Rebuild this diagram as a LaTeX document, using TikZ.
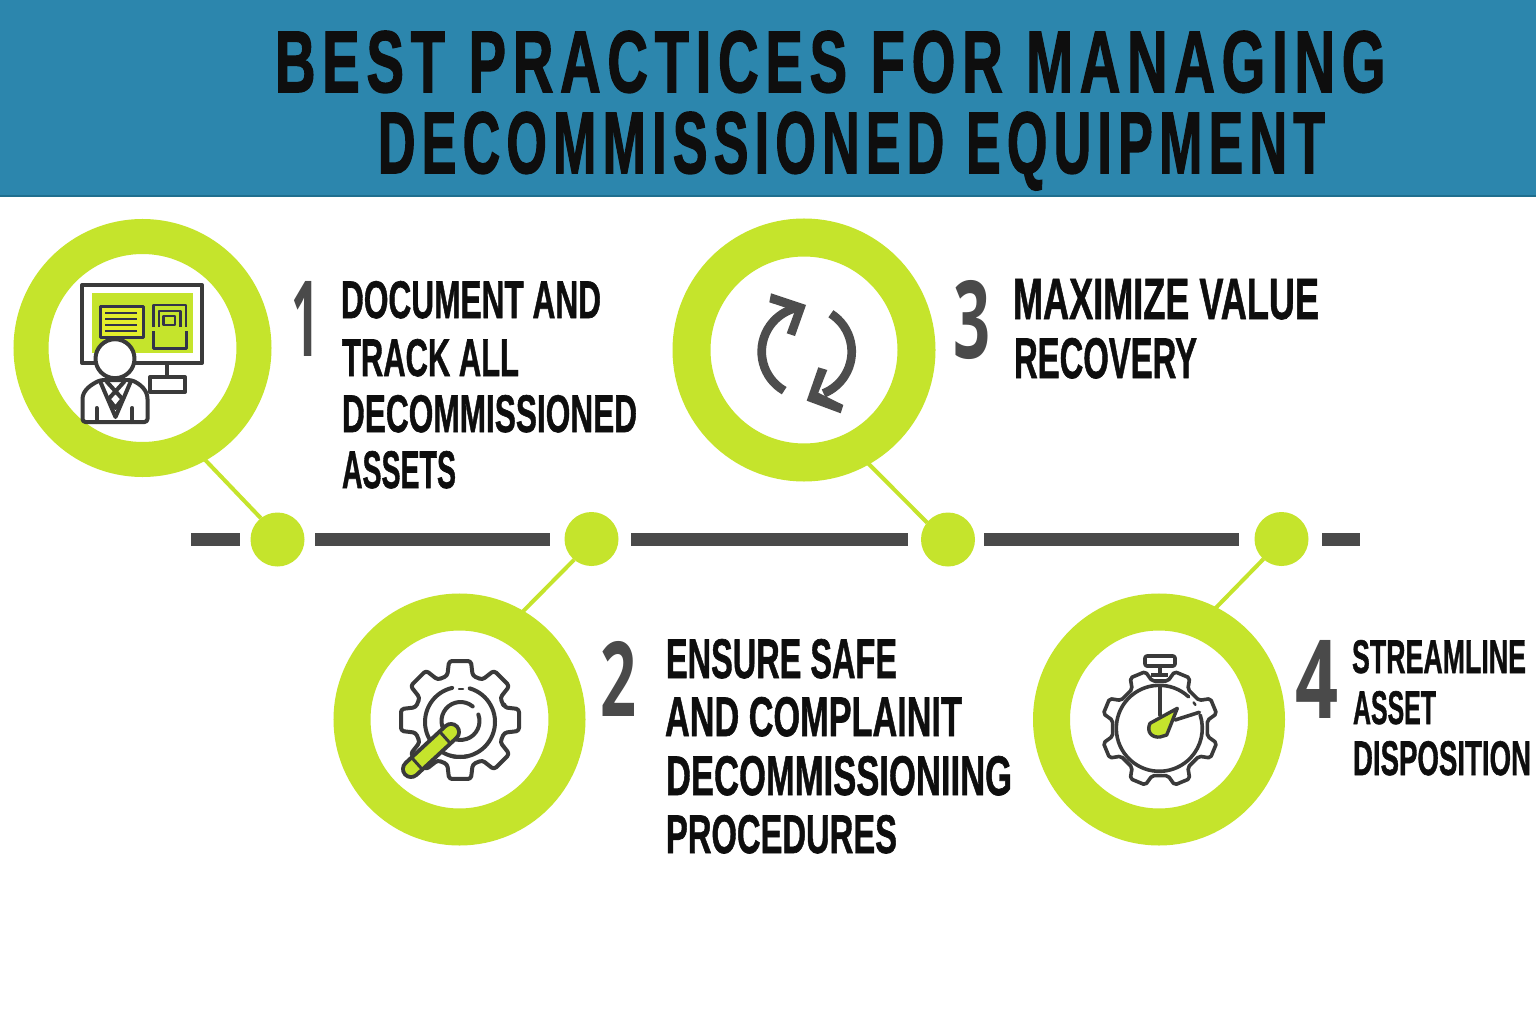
\documentclass[tikz,border=0pt]{standalone}
\usepackage{fontspec}
\usepackage{graphicx}
\setmainfont{Liberation Sans}
\newfontfamily\titlef[FakeBold=1.9,LetterSpace=12]{Liberation Sans Bold}
\newfontfamily\bodyf[FakeBold=1.2]{Liberation Sans Bold}
\newfontfamily\numf{Open Sans}
\newcommand\fitbox[3]{\resizebox{#1pt}{#2pt}{#3}}
\newcommand\wsp{\hspace{0.42em}}
\definecolor{lime}{HTML}{C5E42C}
\definecolor{band}{HTML}{2C86AD}
\definecolor{bandedge}{HTML}{1F6F8F}
\definecolor{ink}{HTML}{0E0E0E}
\definecolor{slate}{HTML}{4A4A4A}
\definecolor{iconline}{HTML}{3A3A3A}
\definecolor{cycleline}{HTML}{4D4D4D}
\definecolor{navyline}{HTML}{33334A}
\definecolor{paper}{HTML}{E4EE2C}
\tikzset{
  ring/.style={circle,draw=lime,fill=white,inner sep=0pt,outer sep=0pt},
  joint/.style={circle,fill=lime,inner sep=0pt,outer sep=0pt,minimum size=54pt},
  link/.style={draw=lime,line width=4pt},
  seg/.style={fill=slate,draw=none},
  label/.style={anchor=base west,inner sep=0pt,outer sep=0pt,text=ink},
  numeral/.style={anchor=base west,inner sep=0pt,outer sep=0pt,text=slate},
  icon/.style={draw=iconline,line width=4pt,line join=round,line cap=round},
  iconthin/.style={draw=navyline,line width=3pt,line join=round},
}
\begin{document}
\begin{tikzpicture}[x=1pt,y=-1pt]
\useasboundingbox (0,0) rectangle (1536,1024);
\fill[white] (0,0) rectangle (1536,1024);
\fill[band] (0,0) rectangle (1536,196);
\draw[bandedge,line width=1.2pt] (0,196) -- (1536,196);
\node[label] (title1) at (275,92) {\fitbox{1110}{61}{\titlef BEST\wsp PRACTICES\wsp FOR\wsp MANAGING}};
\node[label] (title2) at (378,173) {\fitbox{947}{61}{\titlef DECOMMISSIONED\wsp EQUIPMENT}};

% timeline
\fill[seg] (191,533) rectangle (240,546);
\fill[seg] (315,533) rectangle (550,546);
\fill[seg] (631,533) rectangle (908,546);
\fill[seg] (984,533) rectangle (1239,546);
\fill[seg] (1322,533) rectangle (1360,546);

% rings and joints
\node[ring,line width=35pt,minimum size=223pt] (c1) at (142.5,348) {};
\node[ring,line width=38pt,minimum size=225pt] (c3) at (804,350) {};
\node[ring,line width=37pt,minimum size=215pt] (c2) at (459.5,719.5) {};
\node[ring,line width=37pt,minimum size=215pt] (c4) at (1159,719.5) {};
\node[joint] (d1) at (277.5,539.5) {};
\node[joint] (d2) at (591.5,539) {};
\node[joint] (d3) at (948,539.5) {};
\node[joint] (d4) at (1281.5,539) {};
\draw[link] (c1.-63) -- (d1.128);
\draw[link] (c2.62) -- (d2.-130);
\draw[link] (c3.-63) -- (d3.141);
\draw[link] (c4.66) -- (d4.-132);

% numerals
\node[numeral] (n1) at (291,356) {\fitbox{28}{75}{\numf\bfseries 1}};
\node[numeral] (n2) at (600,716) {\fitbox{36}{75}{\numf\bfseries 2}};
\node[numeral] (n3) at (953,358) {\fitbox{37}{78}{\numf\bfseries 3}};
\node[numeral] (n4) at (1295,718) {\fitbox{43}{78}{\numf\bfseries 4}};

% item 1
\node[label] (a1) at (341,318) {\fitbox{260}{37}{\bodyf DOCUMENT AND}};
\node[label] (a2) at (342,376) {\fitbox{177}{37}{\bodyf TRACK ALL}};
\node[label] (a3) at (342,432) {\fitbox{295}{37}{\bodyf DECOMMISSIONED}};
\node[label] (a4) at (342,488) {\fitbox{114}{37}{\bodyf ASSETS}};
% item 2
\node[label] (b1) at (666,678) {\fitbox{231}{39}{\bodyf ENSURE SAFE}};
\node[label] (b2) at (665,736) {\fitbox{297}{39}{\bodyf AND COMPLAINIT}};
\node[label] (b3) at (666,795) {\fitbox{346}{39}{\bodyf DECOMMISSIONIING}};
\node[label] (b4) at (666,853) {\fitbox{231}{38}{\bodyf PROCEDURES}};
% item 3
\node[label] (e1) at (1013,319) {\fitbox{306}{40}{\bodyf MAXIMIZE VALUE}};
\node[label] (e2) at (1014,378) {\fitbox{183}{40}{\bodyf RECOVERY}};
% item 4
\node[label] (f1) at (1352,673) {\fitbox{174}{33}{\bodyf STREAMLINE}};
\node[label] (f2) at (1353,724) {\fitbox{83}{33}{\bodyf ASSET}};
\node[label] (f3) at (1353,775) {\fitbox{178}{34}{\bodyf DISPOSITION}};

% icon 1: monitor and person
\fill[lime] (92,293) rectangle (193,353);
\draw[icon] (82.3,285) rectangle (202,363);
\draw[iconthin,fill=paper] (100,306) rectangle (143,337);
\foreach \ly in {313.3,319.3,325,330.7}{\draw[navyline,line width=2pt] (105,\ly) -- (137,\ly);}
\draw[iconthin,line width=2.6pt] (153.3,327) -- (153.3,305) -- (186,305) -- (186,327);
\draw[iconthin,line width=2.6pt] (159,327) -- (159,311) -- (180.5,311) -- (180.5,327);
\draw[iconthin,line width=2.6pt] (163.5,325) rectangle (175,316);
\draw[iconthin] (153.3,331) -- (153.3,348) -- (186,348) -- (186,331);
\draw[icon] (166.7,363) -- (166.7,377);
\draw[icon,fill=white] (150,377) rectangle (185,392);
\draw[icon,fill=white,rounded corners=3pt] (82.5,422) -- (82.5,402) .. controls (82.5,390) and (92,384) .. (101,380) -- (131,380) .. controls (140,384) and (147.5,390) .. (147.5,402) -- (147.5,422) -- cycle;
\draw[icon,fill=white] (115,358.7) circle[radius=19.5];
\draw[icon] (100,381) -- (115.5,417) -- (131,381);
\draw[icon] (107,382) -- (122.5,399) -- (115.5,408) -- (108.5,399) -- (124,382);
\draw[icon] (96.7,408) -- (96.7,422);
\draw[icon] (132.3,408) -- (132.3,422);

% icon 2: gear and tool
\begin{scope}[shift={(460,720)}]
\draw[icon,rounded corners=3pt] (-16:46) \foreach \a in {0,45,...,315}{ -- (\a-16:46) -- (\a-10.5:60) -- (\a+10.5:60) -- (\a+16:46)} -- cycle;
\end{scope}
\draw[icon] ([shift={(460,722)}]-103:35) arc[start angle=-103,end angle=-283,radius=35];
\draw[icon] ([shift={(460,722)}]-74:35) arc[start angle=-74,end angle=105,radius=35];
\draw[icon,line width=2.5pt] (459,689) -- (463,689);
\draw[icon] ([shift={(460.5,721)}]-50:19) arc[start angle=-50,end angle=-225,radius=19];
\draw[icon] ([shift={(460.5,721)}]-20:19) arc[start angle=-20,end angle=130,radius=19];
\draw[iconline,line width=20pt,line cap=round] (411,769) -- (451,732);
\draw[lime,line width=12pt,line cap=round] (411,769) -- (451,732);
\draw[icon,line width=3pt] (412.5,758.5) -- (421.5,768.5);
\draw[icon,line width=3pt] (440.5,732.5) -- (449.5,742.5);

% icon 3: cycle arrows
\draw[cycleline,line width=8.7pt] ([shift={(806.7,351.7)}]-240:45) arc[start angle=-240,end angle=-106,radius=45];
\draw[cycleline,line width=8.7pt] ([shift={(806.7,351.7)}]-57.5:45) arc[start angle=-57.5,end angle=68,radius=45];
\fill[cycleline] (771,293.3) -- (806,305) -- (795,336) -- (786.7,333.3) -- (795,310.7) -- (769.3,302.3) -- cycle;
\fill[cycleline] (818.3,367.3) -- (827.3,370) -- (818.3,392.7) -- (843.3,405) -- (840.7,413.3) -- (806.7,400.7) -- cycle;

% icon 4: stopwatch
\begin{scope}[shift={(1160,728.3)}]
\draw[icon,line width=3.6pt,rounded corners=2pt] (9.5:48) \foreach \a in {22.5,67.5,...,337.5}{ -- (\a-13:48) -- (\a-8:58.5) -- (\a+8:58.5) -- (\a+13:48)} -- cycle;
\end{scope}
\draw[icon,line width=3.6pt,fill=white,rounded corners=2pt] (1145,656) rectangle (1175,666);
\draw[icon] (1160,666) -- (1160,673);
\fill[iconline] (1150.7,672.5) rectangle (1168,677);
\draw[icon,line width=3.6pt] ([shift={(1159.3,728.3)}]-47:43) arc[start angle=-47,end angle=-378,radius=43];
\draw[icon,line width=2.5pt] ([shift={(1159.3,728.3)}]-37:43) arc[start angle=-37,end angle=-33,radius=43];
\draw[icon,line width=3.6pt] (1160,686.7) -- (1160,715);
\draw[icon,line width=3.6pt] (1175,720) -- (1199.3,712.3);
\draw[icon,fill=lime,line width=3.4pt] (1177.3,708.3) -- (1150,723.3) .. controls (1146,732) and (1152,738) .. (1160,737) -- (1166.7,735) -- cycle;
\end{tikzpicture}
\end{document}
